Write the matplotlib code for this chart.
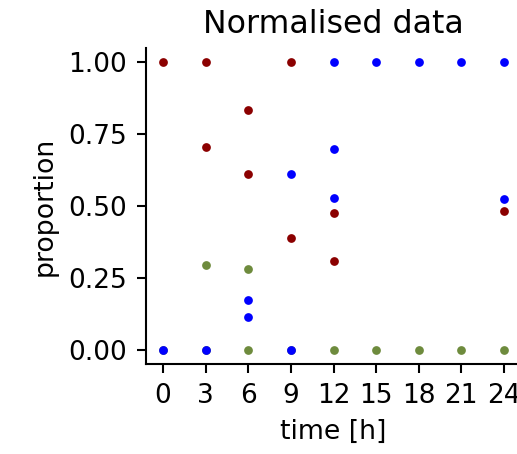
import matplotlib
matplotlib.use("Agg")
import matplotlib.pyplot as plt

# normalised proportions per time point
red_t = [0, 3, 3, 6, 6, 9, 9, 12, 12, 24]
red_y = [1.0, 1.0, 0.707, 0.833, 0.61, 1.0, 0.39, 0.477, 0.31, 0.481]

green_t = [0, 3, 3, 6, 6, 9, 12, 15, 18, 21, 24]
green_y = [0.0, 0.293, 0.0, 0.282, 0.0, 0.0, 0.0, 0.0, 0.0, 0.0, 0.0]

blue_t = [0, 3, 6, 6, 9, 9, 12, 12, 12, 15, 18, 21, 24, 24]
blue_y = [0.0, 0.0, 0.174, 0.115, 0.61, 0.0, 1.0, 0.697, 0.528, 1.0, 1.0, 1.0, 1.0, 0.526]

xticks = [0, 3, 6, 9, 12, 15, 18, 21, 24]
yticks = [0.0, 0.25, 0.5, 0.75, 1.0]

fig = plt.figure(figsize=(5.17, 4.54), dpi=100)
ax = fig.add_axes([146 / 517, (454 - 364) / 454, (521 - 146) / 517, (364 - 48) / 454])

ax.plot(red_t, red_y, 'o', color='#8b0000', ms=6.3, mew=0)
ax.plot(green_t, green_y, 'o', color='#6e8b3d', ms=6.3, mew=0)
ax.plot(blue_t, blue_y, 'o', color='#0000ff', ms=6.3, mew=0)

ax.set_xlim(-1.2, 25.2)
ax.set_ylim(-0.05, 1.05)
ax.set_xticks(xticks)
ax.set_yticks(yticks)
ax.set_yticklabels(['0.00', '0.25', '0.50', '0.75', '1.00'])
ax.tick_params(labelsize=19, length=6.5, width=1.5, pad=7)
for s in ['top', 'right']:
    ax.spines[s].set_visible(False)
for s in ['left', 'bottom']:
    ax.spines[s].set_linewidth(1.5)

ax.set_xlabel('time [h]', fontsize=19.3, labelpad=7.5)
ax.set_ylabel('proportion', fontsize=19.3, labelpad=8)
ax.set_title('Normalised data', fontsize=22.8, pad=10.5)

fig.savefig('out.png', dpi=100)
